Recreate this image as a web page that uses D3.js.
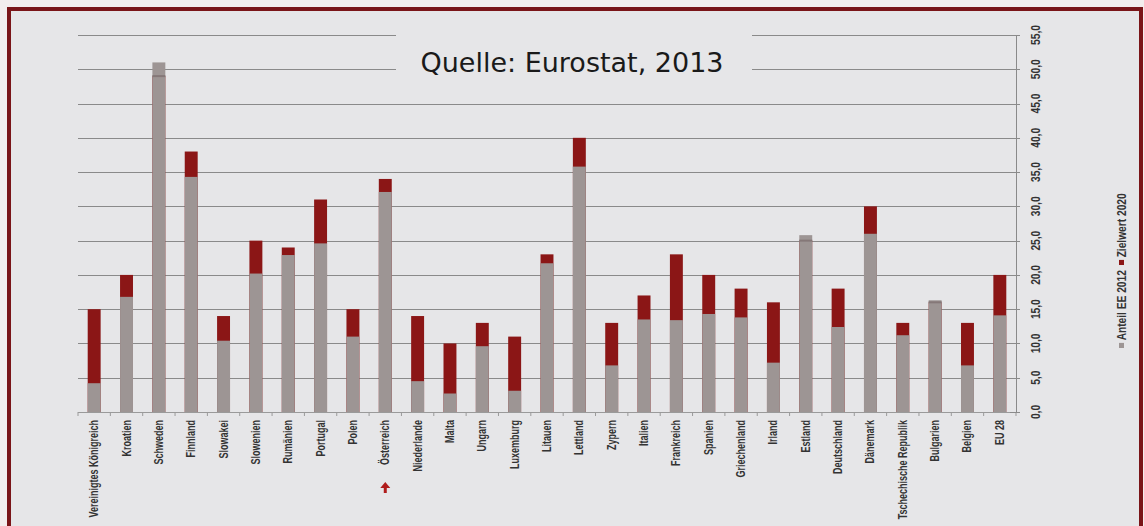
<!DOCTYPE html>
<html><head><meta charset="utf-8">
<script src="https://cdn.jsdelivr.net/npm/d3@7"></script>
<style>
html,body{margin:0;padding:0;background:#f4eeee;}
svg{display:block;}
</style></head>
<body>
<svg id="chart" width="1144" height="526"></svg>
<script>
const categories = ["Vereinigtes Königreich","Kroatien","Schweden","Finnland","Slowakei","Slowenien","Rumänien","Portugal","Polen","Österreich","Niederlande","Malta","Ungarn","Luxemburg","Litauen","Lettland","Zypern","Italien","Frankreich","Spanien","Griechenland","Irland","Estland","Deutschland","Dänemark","Tschechische Republik","Bulgarien","Belgien","EU 28"];
const anteilEE2012 = [4.2,16.8,51.0,34.3,10.4,20.2,22.9,24.6,11.0,32.1,4.5,2.7,9.6,3.1,21.7,35.8,6.8,13.5,13.4,14.3,13.8,7.2,25.8,12.4,26.0,11.2,16.3,6.8,14.1];
const zielwert2020 = [15,20,49,38,14,25,24,31,15,34,14,10,13,11,23,40,13,17,23,20,18,16,25,18,30,13,16,13,20];
const yTicks = [0,5,10,15,20,25,30,35,40,45,50,55];
const seriesNames = ["Anteil EE 2012","Zielwert 2020"];
const titleText = "Quelle: Eurostat, 2013";
const highlighted = "Österreich";

(function(){
const W = 1144, H = 526;
const svg = d3.select("#chart");
const grayCol = "#9d9594", redCol = "#8b1616", gridCol = "#8a8a8a";
const lblFont = "Liberation Sans, Arial, sans-serif";

svg.append("rect").attr("x",0).attr("y",0).attr("width",W).attr("height",H).attr("fill","#f3eded");
svg.append("rect").attr("x",9).attr("y",9).attr("width",1132).attr("height",H+20).attr("fill","#e6e6e8")
  .attr("stroke","#7a1518").attr("stroke-width",4);

const pLeft = 78, pRight = 1016, pTop = 35, pBottom = 412;
const x = d3.scaleBand().domain(categories).range([pLeft,pRight]).paddingInner(0.6).paddingOuter(0.3);
const y = d3.scaleLinear().domain([0,55]).range([pBottom,pTop]);

svg.append("g").selectAll("line").data(yTicks).join("line")
  .attr("x1",pLeft).attr("x2",pRight).attr("y1",d=>Math.round(y(d))+0.5).attr("y2",d=>Math.round(y(d))+0.5)
  .attr("stroke",gridCol).attr("stroke-width",1);

svg.append("rect").attr("x",396).attr("y",26).attr("width",356).attr("height",64).attr("fill","#e6e6e8");
svg.append("text").attr("x",572).attr("y",72).attr("text-anchor","middle")
  .attr("font-family","DejaVu Sans").attr("font-size",27).attr("fill","#1a1a1a").text(titleText);

const bars = svg.append("g");
bars.selectAll("rect.ziel").data(categories).join("rect").attr("class","ziel")
  .attr("x",d=>x(d)).attr("width",x.bandwidth())
  .attr("y",(d,i)=>y(zielwert2020[i])).attr("height",(d,i)=>y(0)-y(zielwert2020[i]))
  .attr("fill",redCol);
bars.selectAll("rect.anteil").data(categories).join("rect").attr("class","anteil")
  .attr("x",d=>x(d)).attr("width",x.bandwidth())
  .attr("y",(d,i)=>y(anteilEE2012[i])).attr("height",(d,i)=>y(0)-y(anteilEE2012[i]))
  .attr("fill",grayCol);
const over = categories.map((c,i)=>({c,i})).filter(o=>zielwert2020[o.i] < anteilEE2012[o.i]);
bars.selectAll("line.edge").data(over).join("line")
  .attr("x1",o=>x(o.c)).attr("x2",o=>x(o.c)+x.bandwidth())
  .attr("y1",o=>y(zielwert2020[o.i])).attr("y2",o=>y(zielwert2020[o.i]))
  .attr("stroke","#857878").attr("stroke-width",2);

const xa = svg.append("g");
xa.append("line").attr("x1",pLeft).attr("x2",pRight).attr("y1",pBottom+0.5).attr("y2",pBottom+0.5).attr("stroke","#9a9a9a");
const bounds = d3.range(categories.length+1).map(i=>pLeft + i*x.step());
xa.selectAll("line.t").data(bounds).join("line").attr("class","t")
  .attr("x1",d=>d).attr("x2",d=>d).attr("y1",pBottom).attr("y2",pBottom+4).attr("stroke","#9a9a9a");
xa.selectAll("text").data(categories).join("text")
  .attr("transform",d=>`translate(${x(d)+x.bandwidth()/2+4},${pBottom+8}) rotate(-90) scale(0.75,1)`)
  .attr("text-anchor","end")
  .attr("font-family",lblFont).attr("font-size",12).attr("font-weight","bold")
  .attr("fill","#333").text(d=>d);

const ax = x(highlighted)+x.bandwidth()/2, ay = 488;
svg.append("path").attr("d",`M${ax},${ay-6} L${ax+5},${ay} L${ax+1.5},${ay} L${ax+1.5},${ay+5} L${ax-1.5},${ay+5} L${ax-1.5},${ay} L${ax-5},${ay} Z`)
  .attr("fill","#b01c1c");

const ya = svg.append("g");
ya.append("line").attr("x1",pRight+0.5).attr("x2",pRight+0.5).attr("y1",pTop).attr("y2",pBottom).attr("stroke","#8a8a8a");
ya.selectAll("line.t").data(yTicks).join("line").attr("class","t")
  .attr("x1",pRight-6).attr("x2",pRight+4).attr("y1",d=>Math.round(y(d))+0.5).attr("y2",d=>Math.round(y(d))+0.5).attr("stroke","#8a8a8a");
ya.selectAll("text").data(yTicks).join("text")
  .attr("transform",d=>`translate(1040,${y(d)}) rotate(-90) scale(0.85,1)`)
  .attr("text-anchor","middle")
  .attr("font-family",lblFont).attr("font-size",12).attr("font-weight","bold")
  .attr("fill","#333").text(d=>d3.format(".1f")(d).replace(".",","));

const lg = svg.append("g").attr("transform","translate(1127,348) rotate(-90) scale(0.85,1)");
const cols = [grayCol, redCol];
let off = 0;
seriesNames.forEach((name,i)=>{
  lg.append("rect").attr("x",off).attr("y",-8).attr("width",6).attr("height",5).attr("fill",cols[i]);
  const t = lg.append("text").attr("x",off+9).attr("y",-1)
    .attr("font-family",lblFont).attr("font-size",12).attr("font-weight","bold")
    .attr("fill","#333").text(name);
  off += 9 + t.node().getComputedTextLength() + 6;
});
})();
</script>
</body></html>
